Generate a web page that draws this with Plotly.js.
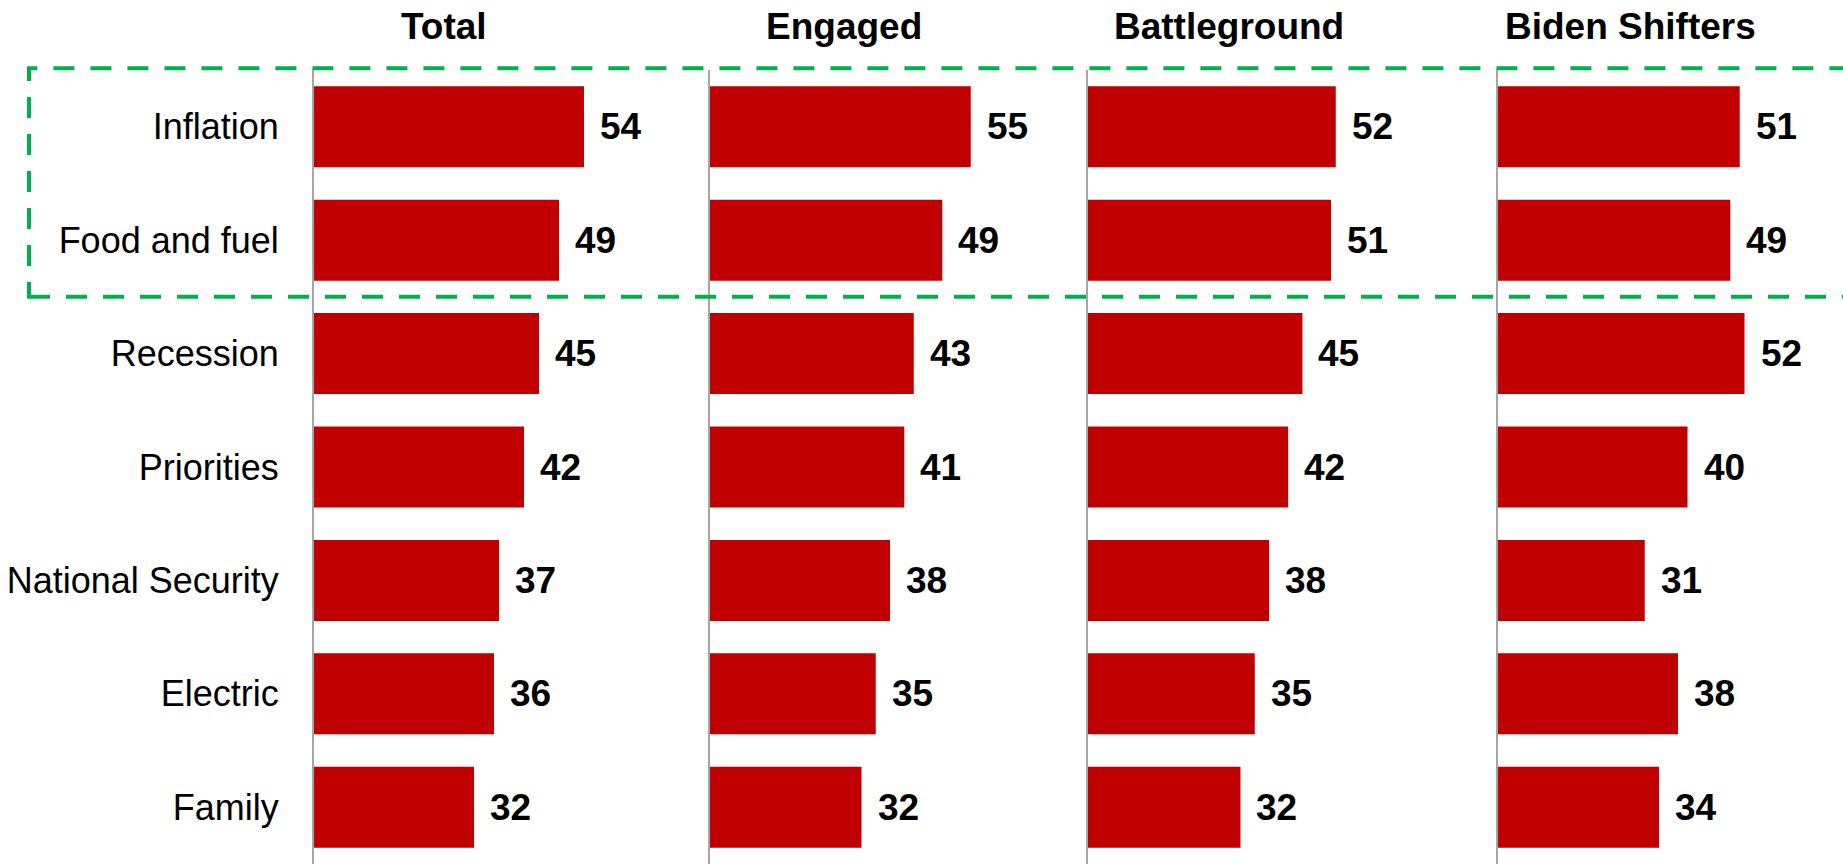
<!DOCTYPE html>
<html>
<head>
<meta charset="utf-8">
<script src="https://cdn.plot.ly/plotly-3.0.1.min.js"></script>
<style>html,body{margin:0;padding:0;background:#fff;}#chart{width:1843px;height:864px;}</style>
</head>
<body>
<div id="chart"></div>
<script>
const categories = ["Inflation", "Food and fuel", "Recession", "Priorities", "National Security", "Electric", "Family"];
const panelTitles = ["Total", "Engaged", "Battleground", "Biden Shifters"];
const totalVals = [54, 49, 45, 42, 37, 36, 32];
const engagedVals = [55, 49, 43, 41, 38, 35, 32];
const battlegroundVals = [52, 51, 45, 42, 38, 35, 32];
const bidenVals = [51, 49, 52, 40, 31, 38, 34];

const series = [totalVals, engagedVals, battlegroundVals, bidenVals];

const W = 1843, H = 864;
const FONT = "Liberation Sans, Arial, sans-serif";
const panelPx = [[314, 654], [709.5, 1032.5], [1088, 1412], [1497.5, 1820.5]];
const titleCenterPx = [444, 844, 1229, 1630];
const xRanges = [[0, 68], [0, 68], [0, 68], [0, 68]];

const plotTop = 70, plotBottom = 0;
const pxToPaperY = p => (H - plotBottom - p) / (H - plotTop - plotBottom);

const traces = [];
const layout = {
  width: W, height: H,
  margin: {l: 0, r: 0, t: plotTop, b: plotBottom, pad: 0},
  paper_bgcolor: "#ffffff",
  plot_bgcolor: "rgba(0,0,0,0)",
  showlegend: false,
  bargap: 0.286,
  font: {family: FONT, color: "#000"},
  annotations: [],
  shapes: []
};

series.forEach((vals, k) => {
  const sfx = k === 0 ? "" : String(k + 1);
  traces.push({
    type: "bar", orientation: "h",
    x: vals, y: categories,
    xaxis: "x" + sfx, yaxis: "y" + sfx,
    marker: {color: "#C00000", line: {width: 0}},
    hoverinfo: "skip"
  });
  layout["xaxis" + sfx] = {
    domain: [panelPx[k][0] / W, panelPx[k][1] / W],
    range: xRanges[k],
    showgrid: false, zeroline: false, showline: false,
    showticklabels: false, ticks: "",
    anchor: "y" + sfx, fixedrange: true
  };
  layout["yaxis" + sfx] = {
    domain: [0, 1],
    type: "category",
    categoryorder: "array", categoryarray: categories,
    autorange: false,
    range: [categories.length - 0.5, -0.5],
    showgrid: false, zeroline: false,
    showline: true, linecolor: "#A6A6A6", linewidth: 2,
    ticks: "",
    showticklabels: k === 0,
    ticklabelstandoff: 26,
    tickfont: {family: FONT, size: 36, color: "#000"},
    anchor: "x" + sfx, fixedrange: true
  };
  vals.forEach((v, i) => {
    layout.annotations.push({
      x: v, y: categories[i], xref: "x" + sfx, yref: "y" + sfx,
      text: String(v), showarrow: false,
      xanchor: "left", yanchor: "middle", xshift: 14,
      font: {family: FONT, size: 37, color: "#000", weight: 700}
    });
  });
  layout.annotations.push({
    x: titleCenterPx[k] / W, y: pxToPaperY(26),
    xref: "paper", yref: "paper",
    text: panelTitles[k], showarrow: false,
    xanchor: "center", yanchor: "middle",
    font: {family: FONT, size: 37, color: "#000", weight: 700}
  });
});

// highlight box around the first two categories (paper coords so it is not clipped)
const pitchPaper = 1 / categories.length;
layout.shapes.push({
  type: "rect", xref: "paper", yref: "paper",
  x0: 29 / W, x1: 1.01, y0: 1 - 2 * pitchPaper, y1: pxToPaperY(68.3),
  line: {color: "#00B050", width: 4, dash: "21px,16px"},
  fillcolor: "rgba(0,0,0,0)", layer: "above"
});

Plotly.newPlot("chart", traces, layout, {displayModeBar: false, staticPlot: true});
</script>
</body>
</html>
